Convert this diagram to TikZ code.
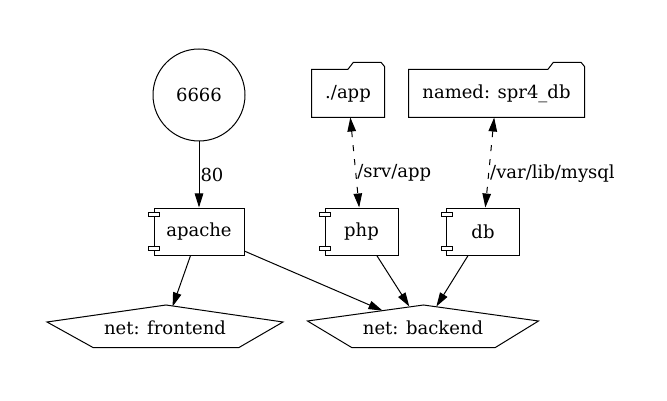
\documentclass[tikz,border=0pt]{standalone}
\usepackage{fontspec}
\setmainfont{DejaVu Serif}
\usetikzlibrary{arrows.meta}
\begin{document}
\begin{tikzpicture}[x=1pt,y=-1pt,line width=1pt,
  font=\fontsize{18}{20}\selectfont,
  >={Triangle[length=14pt,width=8.5pt]},
  port/.style={draw,circle,minimum size=92pt,inner sep=0pt},
  comp/.style={draw,rectangle,minimum height=47pt,inner sep=0pt},
  folder/.style={rectangle,minimum height=47pt,inner sep=0pt},
  netnode/.style={rectangle,minimum height=42pt,minimum width=80pt,inner sep=0pt},
  lbl/.style={right,inner sep=1pt},
  vol/.style={<->,dash pattern=on 6pt off 8pt}]
\useasboundingbox (0,0) rectangle (667,401);

% nodes
\node[port] (p6666) at (199,95) {6666};
\node[comp,minimum width=90pt] (apache) at (199,231.5) {apache};
\node[comp,minimum width=73pt] (php) at (361.5,231.5) {php};
\node[comp,minimum width=73pt] (db) at (483,231.5) {db};
\node[folder,minimum width=72pt] (app) at (348,93.5) {./app};
\node[folder,minimum width=175pt] (named) at (496.5,93.5) {named: spr4\_db};
\node[netnode,label={center:net: frontend}] (fe) at (165,328) {};
\node[netnode,label={center:net: backend}] (be) at (423,328) {};

% component tabs
\foreach \n in {apache,php,db}{
  \draw[fill=white] ([xshift=-5pt,yshift=-4.5pt]\n.north west) rectangle ++(11,4.5);
  \draw[fill=white] ([xshift=-5pt,yshift=5pt]\n.south west) rectangle ++(11,-4.5);
}

% folder outlines
\foreach \n in {app,named}{
  \draw (\n.south west) -- (\n.north west) -- ([xshift=-36.7pt]\n.north east)
    -- ([xshift=-31.3pt,yshift=7pt]\n.north east) -- ([xshift=-3.3pt,yshift=7pt]\n.north east)
    -- ([yshift=3pt]\n.north east) -- (\n.south east) -- cycle;
}

% pentagons
\draw ([shift={(-118,-6)}]fe.center) -- ([shift={(1,-23)}]fe.center) -- ([shift={(118,-6)}]fe.center)
  -- ([shift={(74,19.5)}]fe.center) -- ([shift={(-72,19.5)}]fe.center) -- cycle;
\draw ([shift={(-115.5,-7)}]be.center) -- ([shift={(0.5,-23)}]be.center) -- ([shift={(115.5,-7)}]be.center)
  -- ([shift={(72,19.7)}]be.center) -- ([shift={(-71,19.7)}]be.center) -- cycle;

% edges
\draw[->] (p6666) -- node[lbl]{80} (apache);
\draw[vol] (app) -- node[lbl,pos=0.62]{/srv/app} (php);
\draw[vol] (named) -- node[lbl,pos=0.62]{/var/lib/mysql} (db);
\draw[->] (apache) -- (fe);
\draw[->] (apache) -- (be);
\draw[->] (php) -- (be);
\draw[->] (db) -- (be);
\end{tikzpicture}
\end{document}
